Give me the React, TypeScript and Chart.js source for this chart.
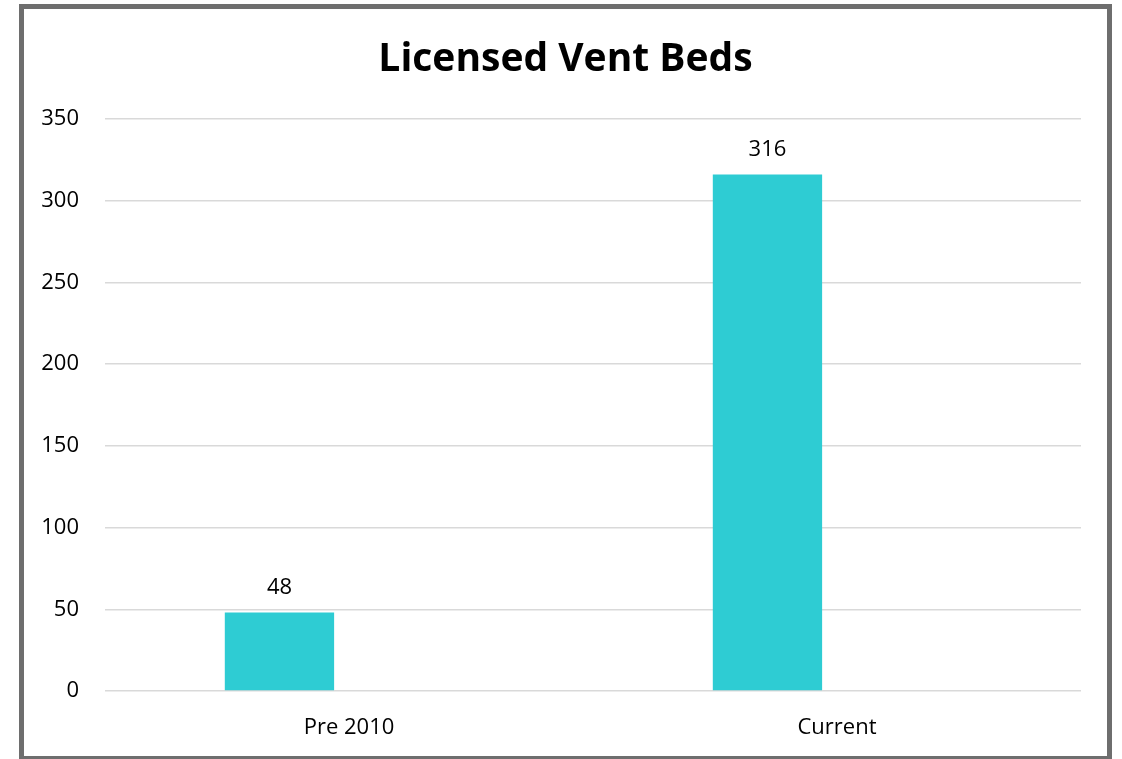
import React, { useEffect, useRef } from "react";
import { Chart, registerables } from "chart.js";

Chart.register(...registerables);

const categories = ["Pre 2010", "Current"];
const bedValues = [48, 316];
const emptySeries: (number | null)[] = [null, null];
const yTicks = [0, 50, 100, 150, 200, 250, 300, 350];
const titleText = "Licensed Vent Beds";

const FONT = "'Open Sans', 'Noto Sans', sans-serif";

const valueLabels = {
  id: "valueLabels",
  afterDatasetsDraw(chart: any) {
    const ctx = chart.ctx;
    const meta = chart.getDatasetMeta(0);
    ctx.save();
    ctx.font = `22px ${FONT}`;
    ctx.fillStyle = "#000";
    ctx.textAlign = "center";
    ctx.textBaseline = "middle";
    meta.data.forEach((bar: any, i: number) => {
      const v = chart.data.datasets[0].data[i];
      if (v == null) return;
      ctx.fillText(String(v), bar.x, bar.y - 25);
    });
    ctx.restore();
  },
};

export default function App() {
  const ref = useRef<HTMLCanvasElement | null>(null);
  useEffect(() => {
    if (!ref.current) return;
    const chart = new Chart(ref.current, {
      type: "bar",
      data: {
        labels: categories,
        datasets: [
          {
            label: "Beds",
            data: bedValues,
            backgroundColor: "#2ECCD3",
            borderWidth: 0,
            categoryPercentage: 0.57,
            barPercentage: 0.786,
          },
          {
            label: "",
            data: emptySeries,
            backgroundColor: "#2ECCD3",
            borderWidth: 0,
            categoryPercentage: 0.57,
            barPercentage: 0.786,
          },
        ],
      },
      options: {
        responsive: false,
        animation: false,
        layout: { padding: 0 },
        plugins: {
          legend: { display: false },
          tooltip: { enabled: false },
          title: {
            display: true,
            text: titleText,
            color: "#000",
            font: { family: FONT, size: 39, weight: "bold" },
            padding: { top: 27, bottom: 36 },
          },
        },
        scales: {
          x: {
            grid: { display: false },
            border: { display: false },
            ticks: {
              color: "#000",
              font: { family: FONT, size: 22 },
              padding: 16,
            },
            afterFit(scale: any) {
              scale.height = 65;
            },
          },
          y: {
            min: 0,
            max: 350,
            afterBuildTicks(scale: any) {
              scale.ticks = yTicks.map((v) => ({ value: v }));
            },
            grid: { color: "#d9d9d9", lineWidth: 1.5, drawTicks: false },
            border: { display: false },
            ticks: {
              color: "#000",
              font: { family: FONT, size: 22 },
              padding: 26,
            },
            afterFit(scale: any) {
              scale.width = 81;
            },
          },
          yRightSpace: {
            position: "right",
            display: true,
            min: 0,
            max: 350,
            grid: { display: false, drawTicks: false },
            border: { display: false },
            ticks: { display: false },
            afterFit(scale: any) {
              scale.width = 26;
            },
          },
        },
      },
      plugins: [valueLabels],
    } as any);
    return () => chart.destroy();
  }, []);

  return (
    <div
      style={{
        position: "absolute",
        left: 19,
        top: 4,
        width: 1083,
        height: 747,
        border: "5px solid #6e6e6e",
        background: "#fff",
      }}
    >
      <canvas ref={ref} width={1083} height={747} style={{ display: "block" }} />
    </div>
  );
}
